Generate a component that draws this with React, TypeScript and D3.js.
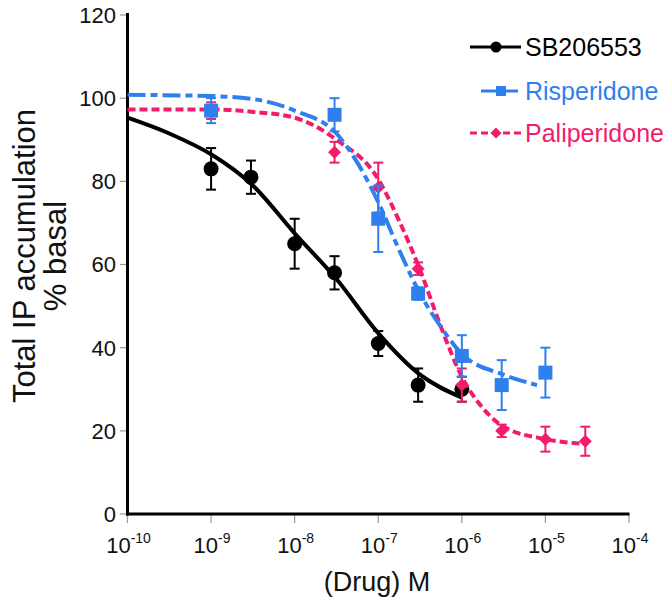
import React from "react";
import * as d3 from "d3";

// ---- data ----
const xTickExps = [-10, -9, -8, -7, -6, -5, -4];
const yTicks = [0, 20, 40, 60, 80, 100, 120];

const sbConc = [1e-9, 3e-9, 1e-8, 3e-8, 1e-7, 3e-7, 1e-6];
const sbVal = [83, 81, 65, 58, 41, 31, 30];
const sbErr = [5, 4, 6, 4, 3, 4, 3];

const risConc = [1e-9, 3e-8, 1e-7, 3e-7, 1e-6, 3e-6, 1e-5];
const risVal = [97, 96, 71, 53, 38, 31, 34];
const risErr = [3, 4, 8, 1.5, 5, 6, 6];

const paliConc = [1e-9, 3e-8, 1e-7, 3e-7, 1e-6, 3e-6, 1e-5, 3e-5];
const paliVal = [97, 87, 78.5, 59, 31, 20, 18, 17.5];
const paliErr = [2, 2.5, 6, 1.5, 4, 1.5, 3, 3.5];

// fitted curves (log10 concentration, % basal)
const sbCurveLog = [-10, -9.5, -9, -8.5, -8, -7.5, -7, -6.5, -6];
const sbCurveVal = [95.3, 91.5, 86.5, 79, 67.5, 56.5, 43.5, 33.5, 28];

const risCurveLog = [-10, -9, -8.5, -8, -7.5, -7.25, -7, -6.75, -6.5, -6.25, -6, -5.5, -5.1];
const risCurveVal = [100.8, 100.5, 99.8, 97, 91.5, 84.5, 75, 63.5, 53, 45, 38.5, 33.5, 31];

const paliCurveLog = [-10, -9, -8.5, -8, -7.5, -7, -6.75, -6.5, -6.25, -6, -5.75, -5.5, -5, -4.5];
const paliCurveVal = [97.3, 97.3, 96.7, 95.3, 90, 80.5, 70.5, 58.7, 45, 33, 25.5, 21, 18, 16.8];

const seriesNames = ["SB206553", "Risperidone", "Paliperidone"];

// ---- styles ----
const BLACK = "#000000";
const BLUE = "#2f80ee";
const PINK = "#f21c6c";
const FONT = "'Liberation Sans', Arial, Helvetica, sans-serif";

export default function App() {
  const W = 670;
  const H = 612;
  const x = d3.scaleLog().domain([1e-10, 1e-4]).range([127.5, 629]);
  const y = d3.scaleLinear().domain([0, 120]).range([514, 15]);

  const line = d3
    .line<[number, number]>()
    .x((d) => x(d[0]))
    .y((d) => y(d[1]))
    .curve(d3.curveMonotoneX);

  const curvePts = (logs: number[], vals: number[]) =>
    logs.map((l, i) => [Math.pow(10, l), vals[i]] as [number, number]);

  const errBars = (conc: number[], val: number[], err: number[], color: string) =>
    conc.map((c, i) => {
      const cx = x(c);
      const y1 = y(val[i] + err[i]);
      const y2 = y(val[i] - err[i]);
      return (
        <g key={"e" + i} stroke={color} strokeWidth={2}>
          <line x1={cx} x2={cx} y1={y1} y2={y2} />
          <line x1={cx - 5} x2={cx + 5} y1={y1} y2={y1} />
          <line x1={cx - 5} x2={cx + 5} y1={y2} y2={y2} />
        </g>
      );
    });

  const circle = (cx: number, cy: number, r: number, color: string, key: string) => (
    <circle key={key} cx={cx} cy={cy} r={r} fill={color} />
  );
  const square = (cx: number, cy: number, s: number, color: string, key: string) => (
    <rect key={key} x={cx - s / 2} y={cy - s / 2} width={s} height={s} fill={color} />
  );
  const diamond = (cx: number, cy: number, s: number, color: string, key: string) => (
    <path
      key={key}
      d={`M${cx},${cy - s / 2}L${cx + s / 2},${cy}L${cx},${cy + s / 2}L${cx - s / 2},${cy}Z`}
      fill={color}
    />
  );

  const blueDash = "18 5 7 5";
  const pinkDash = "8 4";

  return (
    <svg
      width={W}
      height={H}
      style={{ position: "absolute", left: 0, top: 0, background: "#fff" }}
      fontFamily={FONT}
    >
      <rect x={0} y={0} width={W} height={H} fill="#fff" />

      {/* y ticks */}
      {yTicks.map((t) => (
        <g key={"yt" + t}>
          <line x1={120} x2={127} y1={y(t)} y2={y(t)} stroke="#999" strokeWidth={1.2} />
          <text x={116} y={y(t)} dy="0.36em" textAnchor="end" fontSize={22} fill="#111">
            {t}
          </text>
        </g>
      ))}

      {/* x ticks */}
      {xTickExps.map((e) => (
        <g key={"xt" + e}>
          <line x1={x(Math.pow(10, e))} x2={x(Math.pow(10, e))} y1={515} y2={523} stroke="#999" strokeWidth={1.2} />
          <text x={x(Math.pow(10, e)) + 1} y={553} textAnchor="middle" fontSize={22} fill="#111">
            <tspan>10</tspan>
            <tspan fontSize={14} dy={-10}>{String(e)}</tspan>
          </text>
        </g>
      ))}

      {/* axes */}
      <line x1={127.5} x2={127.5} y1={13} y2={515.5} stroke="#000" strokeWidth={3} />
      <line x1={126} x2={629.5} y1={514} y2={514} stroke="#000" strokeWidth={3} />

      {/* axis titles */}
      <text x={377} y={591} textAnchor="middle" fontSize={27} fill="#111">
        (Drug) M
      </text>
      <g transform="translate(35,256) rotate(-90)">
        <text x={0} y={0} textAnchor="middle" fontSize={31} fill="#111">
          Total IP accumulation
        </text>
        <text x={0} y={31} textAnchor="middle" fontSize={31} fill="#111">
          % basal
        </text>
      </g>

      {/* SB206553 */}
      <path d={line(curvePts(sbCurveLog, sbCurveVal)) || ""} fill="none" stroke={BLACK} strokeWidth={4} />
      {errBars(sbConc, sbVal, sbErr, BLACK)}
      {sbConc.map((c, i) => circle(x(c), y(sbVal[i]), 7.5, BLACK, "sb" + i))}

      {/* Paliperidone */}
      <path
        d={line(curvePts(paliCurveLog, paliCurveVal)) || ""}
        fill="none"
        stroke={PINK}
        strokeWidth={4}
        strokeDasharray={pinkDash}
      />
      {errBars(paliConc, paliVal, paliErr, PINK)}
      {paliConc.map((c, i) => diamond(x(c), y(paliVal[i]), 13, PINK, "pa" + i))}

      {/* Risperidone */}
      <path
        d={line(curvePts(risCurveLog, risCurveVal)) || ""}
        fill="none"
        stroke={BLUE}
        strokeWidth={4}
        strokeDasharray={blueDash}
      />
      {errBars(risConc, risVal, risErr, BLUE)}
      {risConc.map((c, i) => square(x(c), y(risVal[i]), 14, BLUE, "ri" + i))}

      {/* legend */}
      <g>
        <line x1={470} x2={521} y1={47} y2={47} stroke={BLACK} strokeWidth={3} />
        {circle(496, 47, 5.5, BLACK, "lg0")}
        <text x={525} y={56} fontSize={25} fill={BLACK}>
          {seriesNames[0]}
        </text>

        <line x1={481} x2={518} y1={91} y2={91} stroke={BLUE} strokeWidth={3} />
        {square(501, 91, 10, BLUE, "lg1")}
        <text x={525} y={100} fontSize={25} fill={BLUE}>
          {seriesNames[1]}
        </text>

        <line x1={470} x2={523} y1={133} y2={133} stroke={PINK} strokeWidth={3} strokeDasharray="7 4" />
        {diamond(496, 133, 11, PINK, "lg2")}
        <text x={525} y={142} fontSize={25} fill={PINK}>
          {seriesNames[2]}
        </text>
      </g>
    </svg>
  );
}
